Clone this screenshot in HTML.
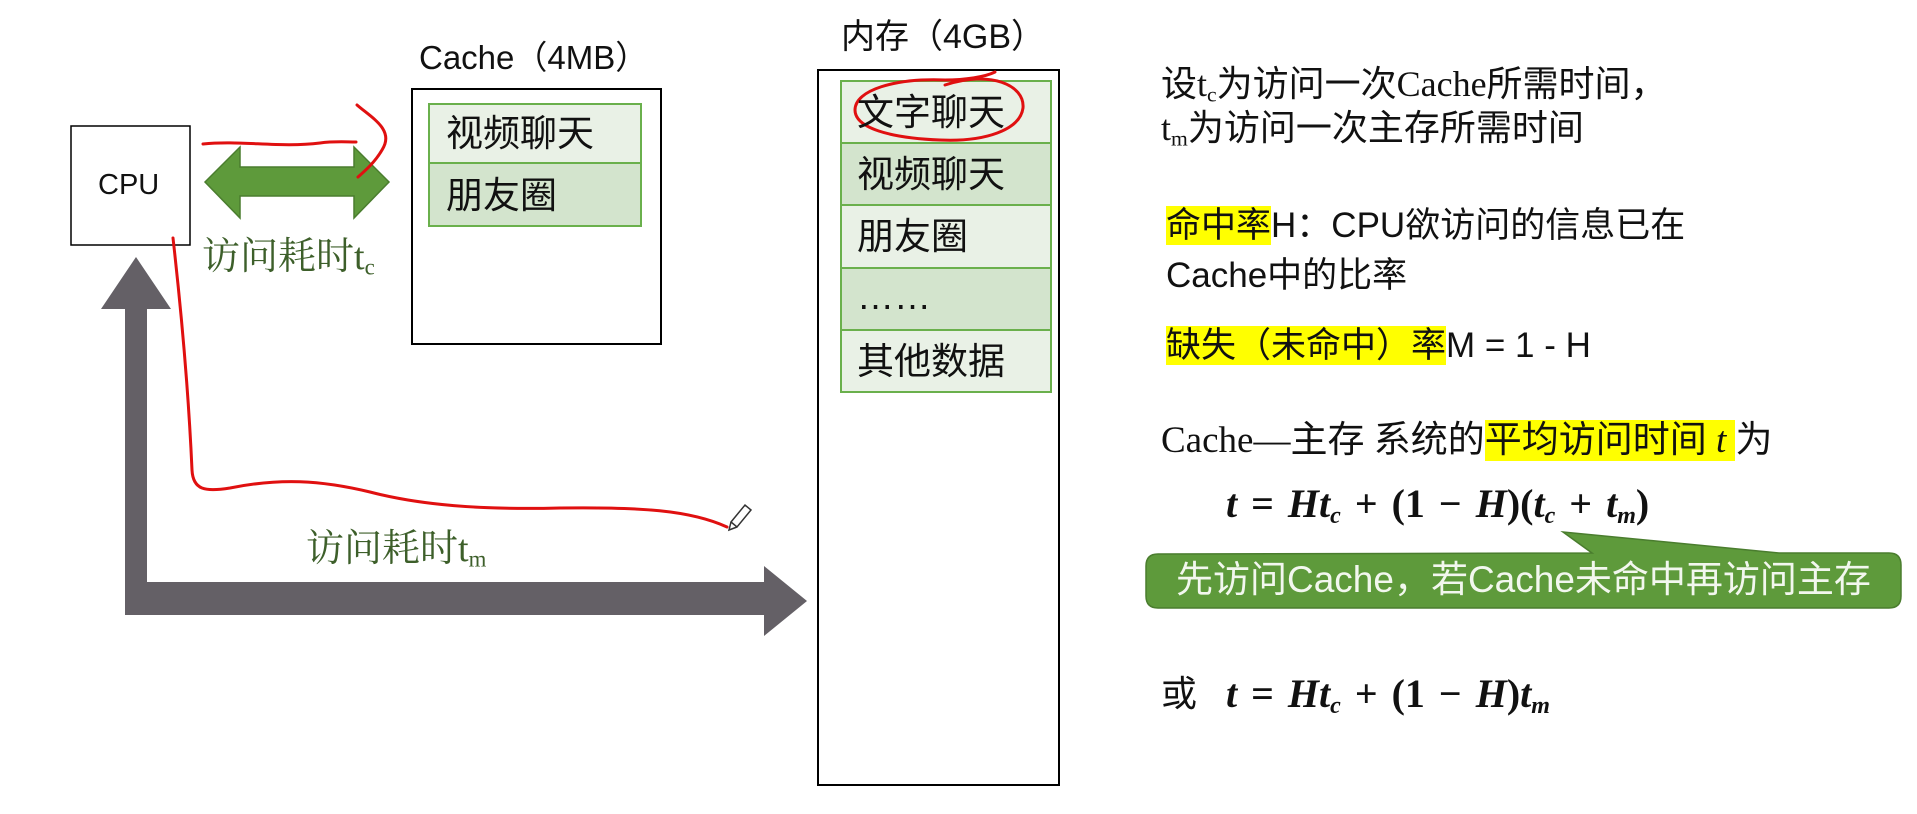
<!DOCTYPE html>
<html><head><meta charset="utf-8"><style>
html,body{margin:0;padding:0;background:#fff;}
body{width:1917px;height:814px;position:relative;overflow:hidden;font-family:"Liberation Sans","Noto Sans CJK SC",sans-serif;color:#111;}
.a{position:absolute;white-space:nowrap;line-height:1;}
.g{color:#3d5f2a;font-family:"Liberation Serif","Noto Serif CJK SC",serif;font-size:38px;}
.r{font-size:37px;}
.hl{background:#ffff00;}
.m{font-family:"Liberation Serif",serif;font-style:italic;font-size:40px;}
.mu{font-family:"Liberation Serif",serif;font-style:normal;font-size:40px;}
sub{font-size:60%;vertical-align:-0.25em;}
</style></head><body>
<svg width="1917" height="814" style="position:absolute;left:0;top:0">
  <rect x="71" y="126" width="119" height="119" fill="#fff" stroke="#000" stroke-width="1.5"/>
  <rect x="412" y="89" width="249" height="255" fill="#fff" stroke="#000" stroke-width="2"/>
  <rect x="429" y="104" width="212" height="59" fill="#e9f1e6" stroke="#6ab04c" stroke-width="2"/>
  <rect x="429" y="163" width="212" height="63" fill="#d3e4cd" stroke="#6ab04c" stroke-width="2"/>
  <rect x="818" y="70" width="241" height="715" fill="#fff" stroke="#000" stroke-width="2"/>
  <rect x="841" y="81" width="210" height="62" fill="#e9f1e6" stroke="#6ab04c" stroke-width="2"/>
  <rect x="841" y="143" width="210" height="62" fill="#d3e4cd" stroke="#6ab04c" stroke-width="2"/>
  <rect x="841" y="205" width="210" height="63" fill="#e9f1e6" stroke="#6ab04c" stroke-width="2"/>
  <rect x="841" y="268" width="210" height="62" fill="#d3e4cd" stroke="#6ab04c" stroke-width="2"/>
  <rect x="841" y="330" width="210" height="62" fill="#e9f1e6" stroke="#6ab04c" stroke-width="2"/>
  <polygon points="205,182 240,147 240,167 354,167 354,147 389,182 354,218 354,196 240,196 240,218" fill="#5e9a3b" stroke="#4a7d2e" stroke-width="1.5"/>
  <polygon points="136,257 171,309 147,309 147,582 764,582 764,566 807,601 764,636 764,615 125,615 125,309 101,309" fill="#646066"/>
  <path d="M1158,554 L1592,553 L1563,532 L1779,553 L1889,553 Q1901,553 1901,565 L1901,596 Q1901,608 1889,608 L1158,608 Q1146,608 1146,596 L1146,566 Q1146,554 1158,554 Z" fill="#5e9a3b" stroke="#4a7d2e" stroke-width="1.5"/>
  <g fill="none" stroke="#e01010" stroke-width="3" stroke-linecap="round">
    <path d="M203,144 C240,140 280,148 320,143 C335,141 345,142 356,142"/>
    <path d="M357,105 C372,118 395,130 382,150 C375,162 366,170 358,177"/>
    <path d="M173,238 C180,300 188,380 192,470 C193,490 205,492 230,488 C280,478 320,480 370,492 C420,505 480,510 560,508 C640,507 690,510 727,527"/>
    <path d="M945,85 C990,70 1025,85 1023,108 C1020,130 985,142 940,140 C890,138 855,128 855,110 C855,90 895,78 945,80 C965,80 985,77 995,72"/>
  </g>
  <g fill="none" stroke="#333" stroke-width="1.5"><path d="M731,522 L745,505 L751,510 L737,527 Z M731,522 L729,530 L737,527"/></g>
</svg>

<div class="a" style="left:98px;top:171px;font-size:29px;">CPU</div>
<div class="a" style="left:419px;top:41px;font-size:33px;">Cache（4MB）</div>
<div class="a" style="left:841px;top:20px;font-size:34px;">内存（4GB）</div>

<div class="a r" style="left:446px;top:115px;">视频聊天</div>
<div class="a r" style="left:446px;top:177px;">朋友圈</div>

<div class="a r" style="left:857px;top:94px;">文字聊天</div>
<div class="a r" style="left:857px;top:156px;">视频聊天</div>
<div class="a r" style="left:857px;top:218px;">朋友圈</div>
<div class="a r" style="left:857px;top:278px;">……</div>
<div class="a r" style="left:857px;top:343px;">其他数据</div>

<div class="a g" style="left:202px;top:238px;">访问耗时t<sub>c</sub></div>
<div class="a g" style="left:306px;top:530px;">访问耗时t<sub>m</sub></div>

<div class="a" style="left:1161px;top:66px;font-size:36px;font-family:'Liberation Serif','Noto Sans CJK SC',serif;">设t<sub>c</sub>为访问一次Cache所需时间，</div>
<div class="a" style="left:1161px;top:110px;font-size:36px;font-family:'Liberation Serif','Noto Sans CJK SC',serif;">t<sub>m</sub>为访问一次主存所需时间</div>

<div class="a" style="left:1166px;top:208px;font-size:35px;"><span class="hl">命中率</span>H：CPU欲访问的信息已在</div>
<div class="a" style="left:1166px;top:258px;font-size:35px;">Cache中的比率</div>
<div class="a" style="left:1166px;top:328px;font-size:35px;"><span class="hl">缺失（未命中）率</span>M = 1 - H</div>

<div class="a" style="left:1161px;top:422px;font-size:37px;font-family:'Liberation Serif','Noto Sans CJK SC',serif;">Cache—主存 系统的<span class="hl">平均访问时间 <i>t</i> </span>为</div>
<div class="a m" style="left:1226px;top:484px;font-weight:bold;word-spacing:4px;">t <span class="mu">=</span> Ht<sub>c</sub> <span class="mu">+ (1 − </span>H<span class="mu">)(</span>t<sub>c</sub> <span class="mu">+</span> t<sub>m</sub><span class="mu">)</span></div>

<div class="a" style="left:1176px;top:561px;font-size:37px;color:#f2f7ee;">先访问Cache，若Cache未命中再访问主存</div>

<div class="a" style="left:1161px;top:676px;font-size:36px;">或</div>
<div class="a m" style="left:1226px;top:674px;font-weight:bold;word-spacing:4px;">t <span class="mu">=</span> Ht<sub>c</sub> <span class="mu">+ (1 − </span>H<span class="mu">)</span>t<sub>m</sub></div>
</body></html>
